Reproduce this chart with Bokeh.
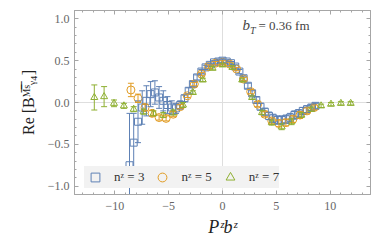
from bokeh.plotting import figure
from bokeh.models import (ColumnDataSource, Whisker, TeeHead, Range1d, LinearAxis, FixedTicker,
                          Label, Legend, LegendItem, CustomJSTickFormatter)
from bokeh.embed import file_html
from bokeh.resources import INLINE

# ---------------- data ----------------
x_n3 = [-8.64, -8.25, -7.85, -7.46, -7.07, -6.68, -6.28, -5.89, -5.50, -5.11, -4.71, -4.32,
        -3.93, -3.53, -3.14, -2.75, -2.36, -1.96, -1.57, -1.18, -0.79, -0.39, 0.00, 0.39,
        0.79, 1.18, 1.57, 1.96, 2.36, 2.75, 3.14, 3.53, 3.93, 4.32, 4.71, 5.11, 5.50, 5.89,
        6.28, 6.68, 7.07, 7.46, 7.85, 8.25, 8.64]
y_n3 = [-0.75, -0.48, -0.23, -0.06, 0.02, 0.10, 0.12, 0.06, 0.02, -0.03, -0.06, -0.07,
        -0.03, 0.05, 0.14, 0.22, 0.30, 0.37, 0.42, 0.45, 0.48, 0.49, 0.50, 0.49,
        0.47, 0.43, 0.37, 0.29, 0.20, 0.11, 0.03, -0.05, -0.11, -0.16, -0.19, -0.21, -0.21, -0.20,
        -0.18, -0.15, -0.13, -0.10, -0.08, -0.06, -0.04]
e_n3 = [0.62, 0.35, 0.25, 0.20, 0.18, 0.15, 0.14, 0.13, 0.12, 0.10, 0.08, 0.06,
        0.05, 0.04, 0.035, 0.03, 0.03, 0.025, 0.025, 0.02, 0.02, 0.02, 0.02, 0.02,
        0.02, 0.02, 0.025, 0.025, 0.03, 0.03, 0.035, 0.04, 0.04, 0.045, 0.05, 0.05, 0.05, 0.05,
        0.05, 0.05, 0.045, 0.04, 0.04, 0.035, 0.03]

x_n5 = [-8.51, -7.85, -7.20, -6.54, -5.89, -5.24, -4.58, -3.93, -3.27, -2.62, -1.96, -1.31,
        -0.65, 0.00, 0.65, 1.31, 1.96, 2.62, 3.27, 3.93, 4.58, 5.24, 5.89, 6.54, 7.20, 7.85, 8.51]
y_n5 = [0.15, 0.05, -0.06, -0.13, -0.18, -0.19, -0.14, -0.05, 0.08, 0.22, 0.34, 0.43,
        0.47, 0.48, 0.46, 0.40, 0.28, 0.13, -0.02, -0.14, -0.22, -0.25, -0.24, -0.20, -0.15, -0.10, -0.06]
e_n5 = [0.08, 0.05, 0.04, 0.035, 0.03, 0.03, 0.03, 0.025, 0.02, 0.02, 0.02, 0.02,
        0.02, 0.02, 0.02, 0.02, 0.02, 0.025, 0.03, 0.03, 0.035, 0.04, 0.04, 0.04, 0.04, 0.035, 0.03]

x_n7 = [-11.91, -11.00, -10.08, -9.16, -8.25, -7.33, -6.41, -5.50, -4.58, -3.67, -2.75, -1.83,
        -0.92, 0.00, 0.92, 1.83, 2.75, 3.67, 4.58, 5.50, 6.41, 7.33, 8.25, 9.16, 10.08, 11.00, 11.91]
y_n7 = [0.06, 0.07, -0.01, -0.04, -0.08, -0.11, -0.13, -0.15, -0.12, -0.03, 0.12, 0.27,
        0.41, 0.45, 0.42, 0.27, 0.06, -0.12, -0.24, -0.29, -0.23, -0.15, -0.08, -0.04, -0.02, -0.01, -0.01]
e_n7 = [0.15, 0.12, 0.04, 0.03, 0.03, 0.03, 0.03, 0.03, 0.03, 0.03, 0.02, 0.02,
        0.02, 0.02, 0.02, 0.02, 0.02, 0.025, 0.03, 0.035, 0.035, 0.03, 0.025, 0.02, 0.02, 0.02, 0.02]

series_labels = ["nᶻ = 3", "nᶻ = 5", "nᶻ = 7"]
x_ticks = [-10, -5, 0, 5, 10]
x_minor = [-13, -12, -11, -9, -8, -7, -6, -4, -3, -2, -1, 1, 2, 3, 4, 6, 7, 8, 9, 11, 12, 13]
y_ticks = [-1.0, -0.5, 0.0, 0.5, 1.0]
y_minor = [-1.1, -0.9, -0.8, -0.7, -0.6, -0.4, -0.3, -0.2, -0.1, 0.1, 0.2, 0.3, 0.4,
           0.6, 0.7, 0.8, 0.9, 1.1]

BLUE, ORANGE, GREEN = "#5e81b5", "#e19c24", "#8fb032"
FRAME = "#a6a6a6"
SERIF = "Liberation Serif"

p = figure(width=382, height=243, output_backend="svg", toolbar_location=None,
           x_range=Range1d(-13.75, 13.75), y_range=Range1d(-1.1, 1.1),
           min_border_left=74, min_border_right=12, min_border_top=10, min_border_bottom=49)
p.outline_line_color = FRAME
p.background_fill_color = "white"
p.border_fill_color = "white"

p.xgrid.ticker = FixedTicker(ticks=[0])
p.ygrid.ticker = FixedTicker(ticks=[0])
p.xgrid.grid_line_color = "#dedede"
p.ygrid.grid_line_color = "#dedede"

xfmt = CustomJSTickFormatter(code="return tick.toFixed(0).replace('-', '\u2212');")
yfmt = CustomJSTickFormatter(code="return tick.toFixed(1).replace('-', '\u2212');")
blank = CustomJSTickFormatter(code="return '';")


def style(ax, ticks, minor, fmt, show):
    ax.ticker = FixedTicker(ticks=ticks, minor_ticks=minor)
    ax.formatter = fmt
    ax.major_tick_in = 4
    ax.major_tick_out = 0
    ax.minor_tick_in = 2
    ax.minor_tick_out = 0
    ax.axis_line_color = FRAME
    ax.major_tick_line_color = FRAME
    ax.minor_tick_line_color = FRAME
    ax.major_label_text_font = SERIF
    ax.major_label_text_color = "#666666"
    if show:
        ax.major_label_text_font_size = "12px"
    else:
        ax.major_label_text_font_size = "0px"
        ax.major_label_standoff = 0


style(p.xaxis[0], x_ticks, x_minor, xfmt, True)
p.xaxis[0].major_label_standoff = 7
p.xaxis[0].axis_label = "Pᶻbᶻ"
p.xaxis[0].axis_label_text_font = SERIF
p.xaxis[0].axis_label_text_font_style = "italic"
p.xaxis[0].axis_label_text_font_size = "18px"
p.xaxis[0].axis_label_text_color = "#222222"
p.xaxis[0].axis_label_standoff = 4

style(p.yaxis[0], y_ticks, y_minor, yfmt, True)
p.yaxis[0].major_label_standoff = 5
p.yaxis[0].axis_label = "Re [B\u1d39\u0305\u02e2\u0305\u1d67\u2084]"
p.yaxis[0].axis_label_text_font = SERIF
p.yaxis[0].axis_label_text_font_style = "normal"
p.yaxis[0].axis_label_text_font_size = "16px"
p.yaxis[0].axis_label_text_color = "#222222"
p.yaxis[0].axis_label_standoff = 8

ax_top = LinearAxis()
style(ax_top, x_ticks, x_minor, blank, False)
p.add_layout(ax_top, "above")
ax_right = LinearAxis()
style(ax_right, y_ticks, y_minor, blank, False)
p.add_layout(ax_right, "right")

renderers = []
for xs, ys, es, col, mk in [(x_n3, y_n3, e_n3, BLUE, "square"),
                            (x_n5, y_n5, e_n5, ORANGE, "circle"),
                            (x_n7, y_n7, e_n7, GREEN, "triangle")]:
    src = ColumnDataSource(dict(x=xs, y=ys,
                                upper=[a + b for a, b in zip(ys, es)],
                                lower=[a - b for a, b in zip(ys, es)]))
    w = Whisker(source=src, base="x", upper="upper", lower="lower", line_color=col, line_width=1,
                upper_head=TeeHead(size=6, line_color=col, line_width=1),
                lower_head=TeeHead(size=6, line_color=col, line_width=1), level="glyph")
    p.add_layout(w)
    r = p.scatter("x", "y", source=src, marker=mk, size=7 if mk != "circle" else 8,
                  line_color=col, fill_alpha=0, line_width=1)
    renderers.append(r)

legend = Legend(items=[LegendItem(label=lab, renderers=[r]) for lab, r in zip(series_labels, renderers)],
                orientation="horizontal", location=(10, 6), margin=0,
                background_fill_color="#f2f2f2", background_fill_alpha=1, border_line_color=None,
                label_text_font=SERIF, label_text_font_size="13px", label_text_color="#333333",
                glyph_width=22, glyph_height=22, label_standoff=8, spacing=7, padding=2)
p.add_layout(legend)

# annotation b_T = 0.36 fm
p.add_layout(Label(x=168, y=162, x_units="screen", y_units="screen", text="b",
                   text_font=SERIF, text_font_style="italic", text_font_size="15px"))
p.add_layout(Label(x=175.5, y=159, x_units="screen", y_units="screen", text="T",
                   text_font=SERIF, text_font_style="italic", text_font_size="10px"))
p.add_layout(Label(x=184, y=162, x_units="screen", y_units="screen", text="= 0.36 fm",
                   text_font=SERIF, text_font_size="13px"))

open("out.html", "w").write(file_html(p, INLINE))
